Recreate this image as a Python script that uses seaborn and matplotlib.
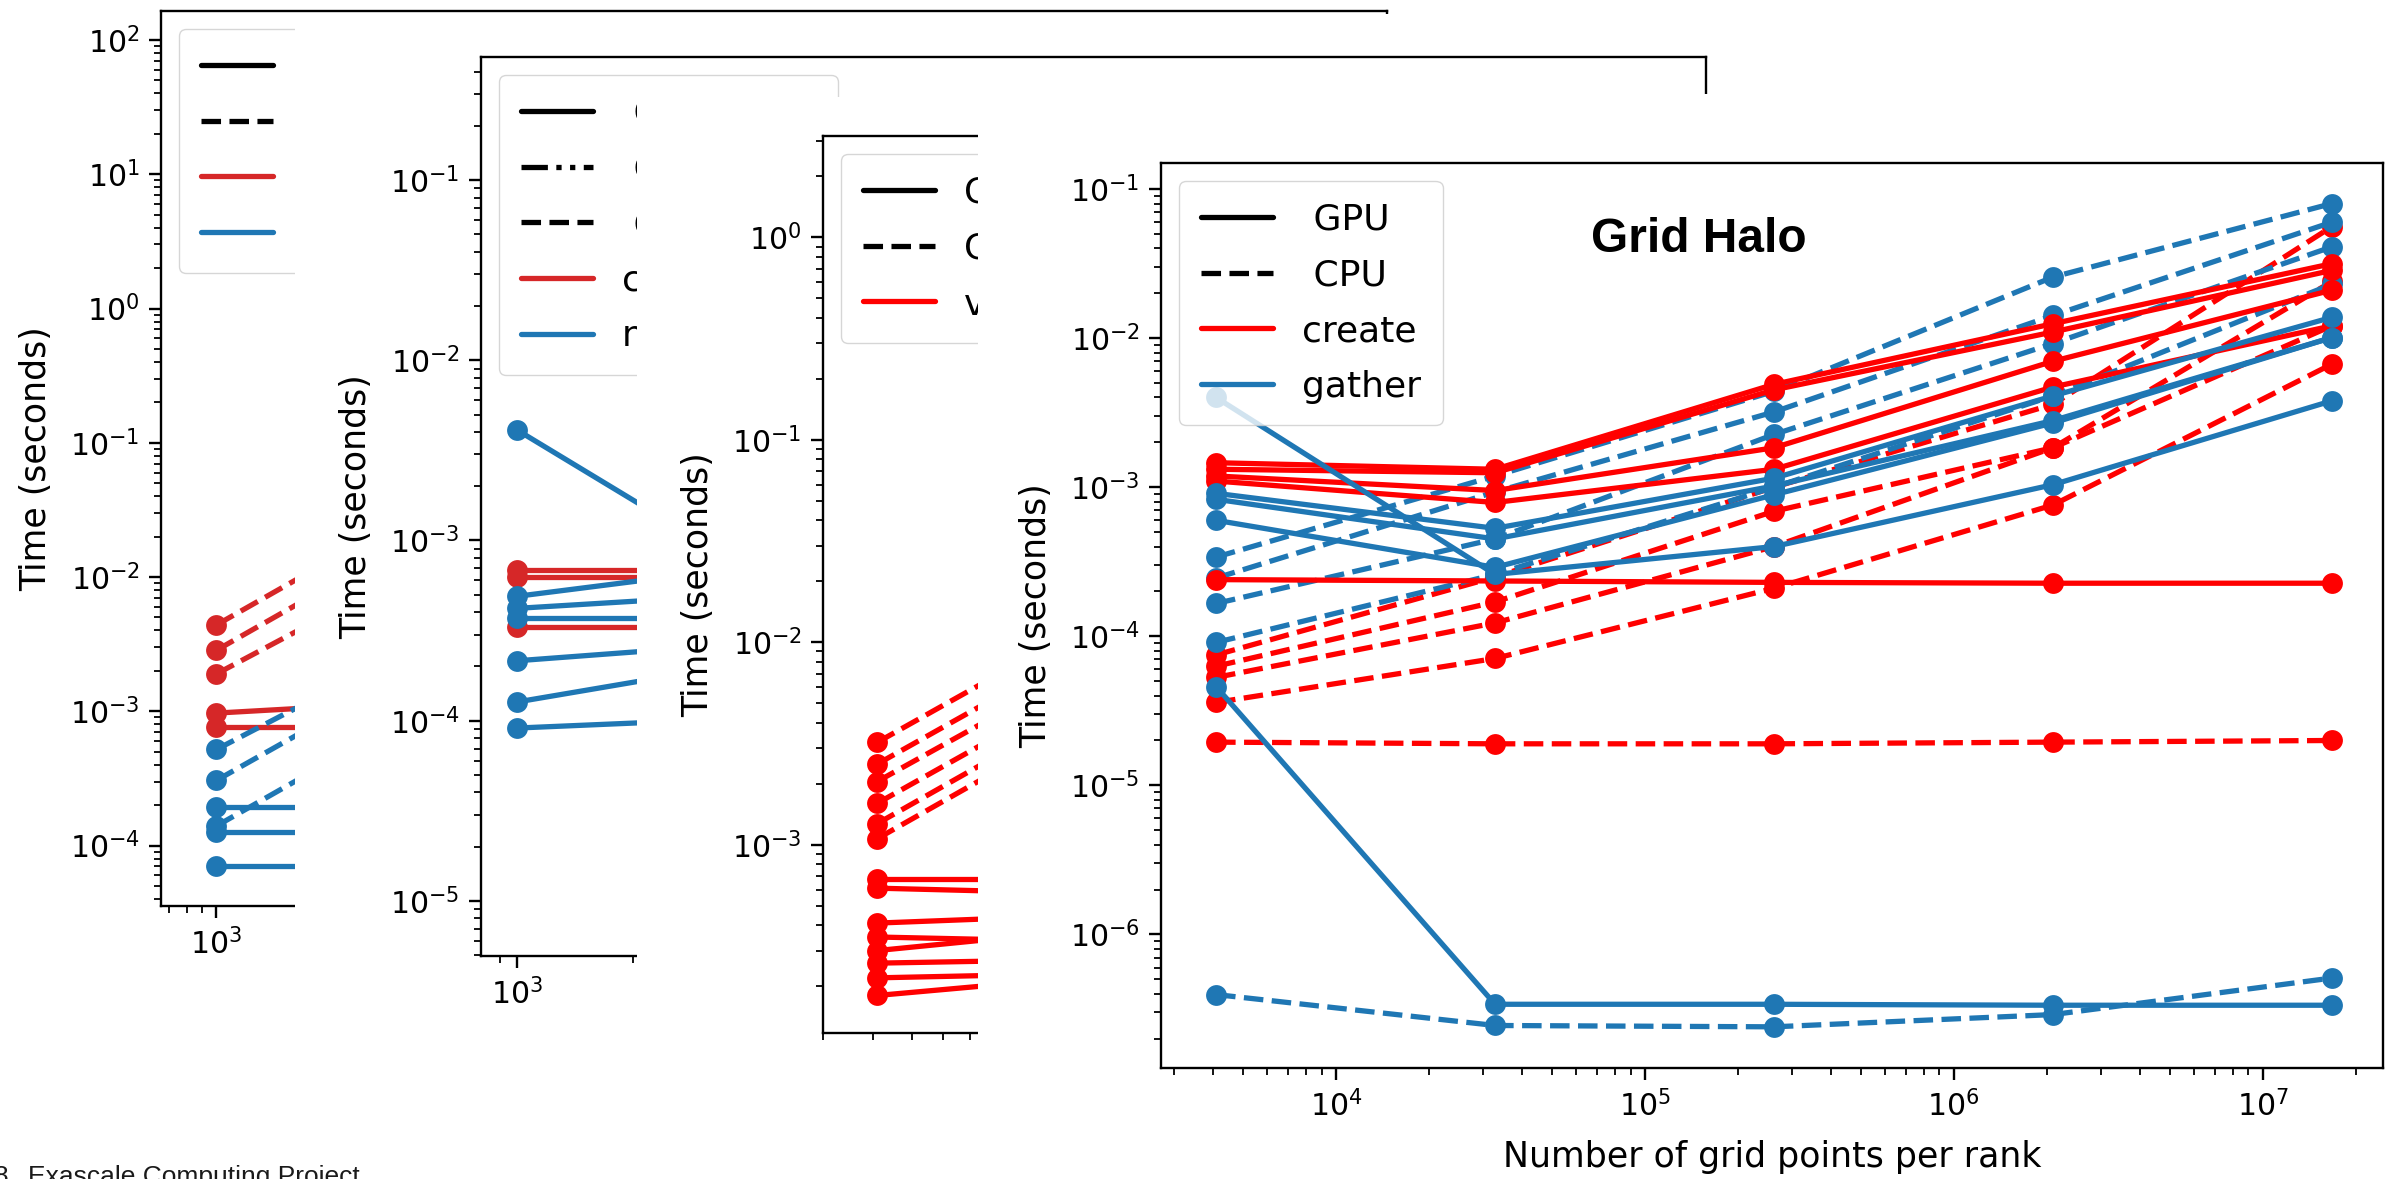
import matplotlib
matplotlib.use("Agg")
import matplotlib.pyplot as plt
import seaborn as sns
from matplotlib.lines import Line2D
from matplotlib.patches import Rectangle

W, H = 2387, 1179

# front panel: Grid Halo
grid_points = [4096, 32768, 262144, 2097152, 16777216]

gpu_create = [
    [1.46e-3, 1.32e-3, 4.9e-3, 1.25e-2, 3.16e-2],
    [1.32e-3, 1.25e-3, 4.5e-3, 1.1e-2, 2.85e-2],
    [1.19e-3, 9.5e-4, 1.84e-3, 7.0e-3, 2.1e-2],
    [1.1e-3, 7.9e-4, 1.32e-3, 4.7e-3, 1.21e-2],
    [2.4e-4, 2.35e-4, 2.3e-4, 2.27e-4, 2.27e-4],
]
cpu_create = [
    [7.5e-5, 2.5e-4, 1.0e-3, 3.6e-3, 5.6e-2],
    [6.3e-5, 1.7e-4, 6.9e-4, 1.84e-3, 2.4e-2],
    [5.3e-5, 1.23e-4, 4.0e-4, 1.84e-3, 1.21e-2],
    [3.6e-5, 7.1e-5, 2.1e-4, 7.6e-4, 6.7e-3],
    [1.95e-5, 1.9e-5, 1.9e-5, 1.95e-5, 2.0e-5],
]
gpu_gather = [
    [9.1e-4, 5.3e-4, 1.15e-3, 4.1e-3, 1.38e-2],
    [8.3e-4, 4.5e-4, 1.02e-3, 2.8e-3, 1.01e-2],
    [6.0e-4, 2.9e-4, 8.9e-4, 2.7e-3, 1.01e-2],
    [4.0e-3, 2.6e-4, 4.0e-4, 1.04e-3, 3.8e-3],
    [4.6e-5, 3.4e-7, 3.4e-7, 3.35e-7, 3.35e-7],
]
cpu_gather = [
    [3.4e-4, 1.19e-3, 4.4e-3, 2.57e-2, 8.0e-2],
    [2.46e-4, 9.3e-4, 3.2e-3, 1.42e-2, 6.0e-2],
    [1.66e-4, 4.5e-4, 2.26e-3, 9.2e-3, 4.1e-2],
    [9.1e-5, 2.6e-4, 1.0e-3, 4.1e-3, 2.3e-2],
    [3.95e-7, 2.45e-7, 2.4e-7, 2.9e-7, 5.1e-7],
]

# panels behind it, only their left part shows
p1_points = [1000, 8000]
p1_gpu_create = [[9.7e-4, 1.27e-3], [7.7e-4, 7.7e-4]]
p1_cpu_create = [[4.4e-3, 6.6e-2], [2.85e-3, 4.3e-2], [1.9e-3, 2.4e-2]]
p1_gpu_gather = [[1.95e-4, 1.95e-4], [1.27e-4, 1.27e-4], [7.1e-5, 7.1e-5]]
p1_cpu_gather = [[5.2e-4, 6.2e-3], [3.06e-4, 4.5e-3], [1.4e-4, 2.1e-3]]

p2_points = [1000, 8000]
p2_create = [[6.9e-4, 6.9e-4], [6.3e-4, 6.3e-4], [3.3e-4, 3.3e-4]]
p2_neighbor = [[4.1e-3, 2.8e-4], [4.9e-4, 8.6e-4], [4.2e-4, 5.5e-4], [3.7e-4, 3.7e-4],
               [2.15e-4, 3.0e-4], [1.27e-4, 2.7e-4], [9.1e-5, 1.1e-4]]

p3_points = [4096, 32768]
p3_cpu = [[3.2e-3, 3.2e-2], [2.5e-3, 2.5e-2], [2.05e-3, 2.0e-2],
          [1.6e-3, 1.6e-2], [1.27e-3, 1.3e-2], [1.07e-3, 1.1e-2]]
p3_gpu = [[6.8e-4, 6.8e-4], [6.1e-4, 5.5e-4], [4.1e-4, 4.8e-4], [3.5e-4, 3.2e-4],
          [3.0e-4, 4.5e-4], [2.6e-4, 2.8e-4], [2.2e-4, 2.4e-4], [1.8e-4, 2.6e-4]]

BLUE = "#1f77b4"
LW = 3.8
MS = 15

sns.set_style("ticks")
plt.rcParams.update({
    "font.family": ["DejaVu Sans"],
    "axes.linewidth": 1.7,
    "axes.edgecolor": "black",
    "axes.labelcolor": "black",
    "text.color": "black",
    "xtick.color": "black",
    "ytick.color": "black",
    "xtick.major.size": 8.5, "ytick.major.size": 8.5,
    "xtick.minor.size": 5, "ytick.minor.size": 5,
    "xtick.major.width": 1.7, "ytick.major.width": 1.7,
    "xtick.minor.width": 1.3, "ytick.minor.width": 1.3,
    "xtick.major.pad": 7, "ytick.major.pad": 7,
    "xtick.labelsize": 21.5, "ytick.labelsize": 21.5,
    "axes.labelsize": 25,
})

fig = plt.figure(figsize=(W / 100, H / 100), dpi=100)


def ax_at(left, top, right, bottom, z):
    ax = fig.add_axes([left / W, 1 - bottom / H, (right - left) / W, (bottom - top) / H])
    ax.set_zorder(z)
    ax.set_xscale("log")
    ax.set_yscale("log")
    return ax


def cover(left, top, z):
    # white slide area of the next screenshot
    fig.add_artist(Rectangle((left / W, 0), 1 - left / W, 1 - top / H,
                             transform=fig.transFigure, facecolor="white",
                             edgecolor="none", zorder=z))


def draw(ax, xs, series, color, ls):
    for ys in series:
        sns.lineplot(x=xs, y=ys, ax=ax, color=color, linestyle=ls, marker="o",
                     markersize=MS, markeredgewidth=0, linewidth=LW,
                     estimator=None, sort=False)


def finish(ax, width, handles, labels):
    ax.set_ylabel("Time (seconds)")
    ax.yaxis.set_label_coords(-108 / width, 0.5)
    ax.legend(handles=handles, labels=labels, loc="upper left", fontsize=26,
              handlelength=2.0, labelspacing=0.6, borderpad=0.6, frameon=True)


def h(color, ls):
    return Line2D([], [], color=color, linestyle=ls, linewidth=LW)


dashdotdot = (0, (5.0, 1.6, 1.0, 1.6, 1.0, 1.6))

# panel 1
ax1 = ax_at(161, 11, 1387, 906, 1)
draw(ax1, p1_points, p1_cpu_create, "tab:red", "--")
draw(ax1, p1_points, p1_gpu_create, "tab:red", "-")
draw(ax1, p1_points, p1_cpu_gather, BLUE, "--")
draw(ax1, p1_points, p1_gpu_gather, BLUE, "-")
ax1.set_xlim(10 ** 2.82, 10 ** 6.80)
ax1.set_ylim(10 ** -4.45, 10 ** 2.216)
finish(ax1, 1226, [h("k", "-"), h("k", "--"), h("tab:red", "-"), h(BLUE, "-")],
       [" GPU", " CPU", "create", "gather"])

# panel 2
cover(295, 14, 2)
ax2 = ax_at(481, 57, 1706, 956, 3)
draw(ax2, p2_points, p2_create, "tab:red", "-")
draw(ax2, p2_points, p2_neighbor, BLUE, "-")
ax2.set_xlim(10 ** 2.906, 10 ** 6.09)
ax2.set_ylim(10 ** -5.306, 10 ** -0.317)
finish(ax2, 1225,
       [h("k", "-"), h("k", dashdotdot), h("k", "--"), h("tab:red", "-"), h(BLUE, "-")],
       [" GPU", " CPU serial", " CPU", "create", "neighbor"])

# panel 3
cover(637, 97, 4)
ax3 = ax_at(823, 136, 2048, 1033, 5)
draw(ax3, p3_points, p3_cpu, "red", "--")
draw(ax3, p3_points, p3_gpu, "red", "-")
ax3.set_xlim(10 ** 3.477, 10 ** 6.54)
ax3.set_ylim(10 ** -3.93, 10 ** 0.50)
finish(ax3, 1225, [h("k", "-"), h("k", "--"), h("red", "-")],
       ["GPU", "CPU", "vector"])

# panel 4 (front)
cover(978, 94, 6)
ax4 = ax_at(1161, 163, 2383, 1068, 7)
draw(ax4, grid_points, cpu_create, "red", "--")
draw(ax4, grid_points, cpu_gather, BLUE, "--")
draw(ax4, grid_points, gpu_create, "red", "-")
draw(ax4, grid_points, gpu_gather, BLUE, "-")
ax4.set_xlim(10 ** 3.434, 10 ** 7.39)
ax4.set_ylim(10 ** -6.896, 10 ** -0.825)
finish(ax4, 1222, [h("k", "-"), h("k", "--"), h("red", "-"), h(BLUE, "-")],
       [" GPU", " CPU", "create", "gather"])
ax4.set_xlabel("Number of grid points per rank")
ax4.xaxis.set_label_coords(0.5, -0.08)

fig.text(1591 / W, 1 - 239 / H, "Grid Halo", fontsize=34.5, fontweight="bold",
         family="Liberation Sans", ha="left", va="center", zorder=10)

fig.text(-6 / W, -5 / H, "8", fontsize=19, family="Liberation Sans",
         color="#1a1a1a", ha="left", va="baseline", zorder=10)
fig.text(28 / W, -5 / H, "Exascale Computing Project", fontsize=19,
         family="Liberation Sans", color="#1a1a1a", ha="left", va="baseline", zorder=10)

fig.savefig("out.png", dpi=100, facecolor="white")
